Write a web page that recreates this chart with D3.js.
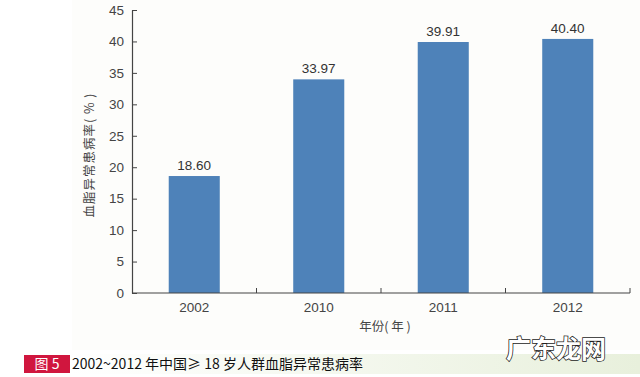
<!DOCTYPE html>
<meta charset="utf-8">
<style>
    body
    {
        margin:0;
        background:#fff;
    }
    text
    {
        font-family:"Noto Sans CJK SC","Liberation Sans",sans-serif;
    }
</style>
<script src="https://d3js.org/d3.v7.min.js"></script>
<svg id="chart"></svg>
<script>
    var years = ["2002","2010","2011","2012"];
    var rates = [18.60,33.97,39.91,40.40];
    var yTicks = [0,5,10,15,20,25,30,35,40,45];

    var screen = {width:640,height:377};
    var svg = d3.select("#chart")
        .attr("width",screen.width)
        .attr("height",screen.height);

    // faint off-white panel behind the plot
    svg.append("rect")
        .attr("x",72).attr("y",0)
        .attr("width",568).attr("height",350)
        .attr("fill","#fdfdfb");

    var xScale = d3.scaleBand()
        .domain(years)
        .range([132,630])
        .paddingInner(0.59)
        .paddingOuter(0.295);
    var yScale = d3.scaleLinear()
        .domain([0,45])
        .range([293,10]);

    // bars
    svg.selectAll("rect.bar")
        .data(rates)
        .enter()
        .append("rect")
        .attr("class","bar")
        .attr("x",function(d,i){return xScale(years[i]);})
        .attr("y",function(d){return yScale(d);})
        .attr("width",xScale.bandwidth())
        .attr("height",function(d){return yScale(0)-yScale(d);})
        .attr("fill","#4e82b9");

    svg.selectAll("text.val")
        .data(rates)
        .enter()
        .append("text")
        .attr("class","val")
        .attr("x",function(d,i){return xScale(years[i])+xScale.bandwidth()/2;})
        .attr("y",function(d){return yScale(d)-6;})
        .attr("text-anchor","middle")
        .attr("font-size",13.5)
        .attr("fill","#333")
        .style("font-family","'Liberation Sans',sans-serif")
        .text(function(d){return d.toFixed(2);});

    // y axis
    var yAxis = d3.axisLeft(yScale)
        .tickValues(yTicks)
        .tickSizeInner(-5)
        .tickSizeOuter(0)
        .tickPadding(8);
    var gy = svg.append("g")
        .attr("transform","translate(132,0)")
        .call(yAxis);
    gy.select(".domain").attr("stroke","#444").attr("stroke-width",1.2);
    gy.selectAll(".tick line").attr("stroke","#444");
    gy.selectAll(".tick text")
        .attr("font-size",13.5)
        .attr("fill","#444")
        .style("font-family","'Liberation Sans',sans-serif");

    // x axis: ticks at category boundaries, pointing up
    var bounds = [132,256.5,381,505.5,630];
    svg.append("line")
        .attr("x1",132).attr("x2",630)
        .attr("y1",293).attr("y2",293)
        .attr("stroke","#444").attr("stroke-width",1.2);
    svg.selectAll("line.xt")
        .data(bounds.slice(1))
        .enter()
        .append("line")
        .attr("class","xt")
        .attr("x1",function(d){return d;}).attr("x2",function(d){return d;})
        .attr("y1",293).attr("y2",288)
        .attr("stroke","#444");
    svg.selectAll("text.xl")
        .data(years)
        .enter()
        .append("text")
        .attr("class","xl")
        .attr("x",function(d){return xScale(d)+xScale.bandwidth()/2;})
        .attr("y",312)
        .attr("text-anchor","middle")
        .attr("font-size",13.5)
        .attr("fill","#444")
        .style("font-family","'Liberation Sans',sans-serif")
        .text(function(d){return d;});

    // axis titles
    svg.append("text")
        .attr("x",385).attr("y",331)
        .attr("text-anchor","middle")
        .attr("font-size",12.5)
        .attr("fill","#444")
        .text("年份( 年 )");
    svg.append("text")
        .attr("transform","translate(94,155) rotate(-90)")
        .attr("text-anchor","middle")
        .attr("font-size",12.5)
        .attr("letter-spacing",1)
        .attr("fill","#444")
        .text("血脂异常患病率( % )");

    // caption band
    var grad = svg.append("defs").append("linearGradient")
        .attr("id","band");
    grad.append("stop").attr("offset","0%").attr("stop-color","#ffffff");
    grad.append("stop").attr("offset","100%").attr("stop-color","#e8f0dc");
    svg.append("rect")
        .attr("x",70).attr("y",354)
        .attr("width",570).attr("height",20)
        .attr("fill","url(#band)");
    svg.append("rect")
        .attr("x",24).attr("y",355)
        .attr("width",46).attr("height",18)
        .attr("fill","#d0163e");
    svg.append("text")
        .attr("x",47).attr("y",369)
        .attr("text-anchor","middle")
        .attr("font-size",14)
        .attr("fill","#fff")
        .text("图 5");
    svg.append("text")
        .attr("x",72).attr("y",369)
        .attr("font-size",14)
        .attr("fill","#111")
        .text("2002~2012 年中国≥ 18 岁人群血脂异常患病率");

    // watermark
    svg.append("text")
        .attr("x",506).attr("y",358)
        .attr("font-size",25)
        .attr("font-weight","bold")
        .attr("fill","#fff")
        .attr("stroke","#222")
        .attr("stroke-width",1.5)
        .attr("paint-order","stroke")
        .text("广东龙网");
</script>
